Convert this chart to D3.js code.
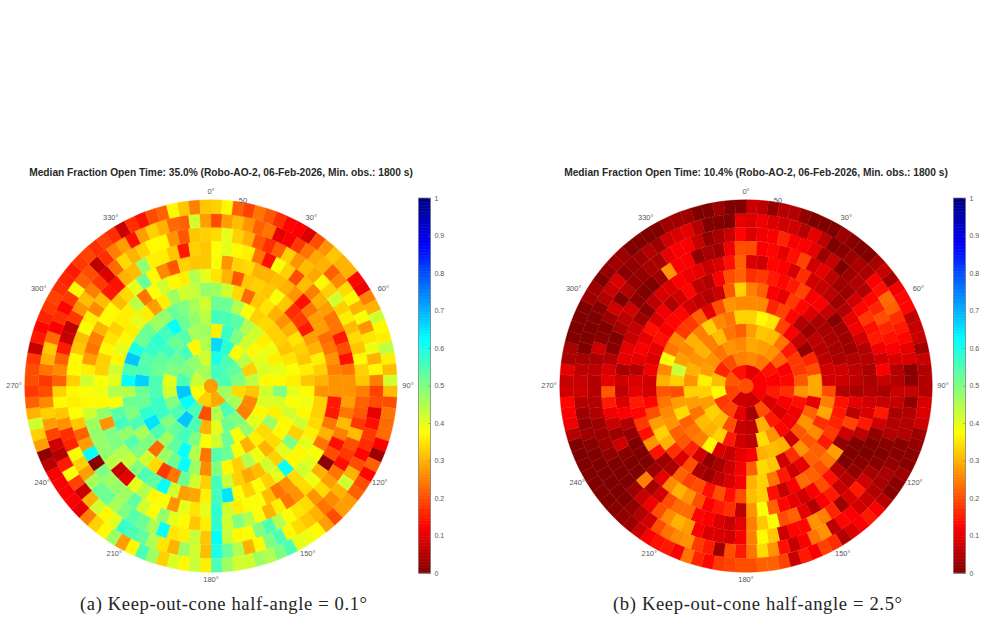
<!DOCTYPE html>
<html>
<head>
<meta charset="utf-8">
<script src="https://cdn.jsdelivr.net/npm/d3@7/dist/d3.min.js"></script>
<style>
html,body{margin:0;padding:0;background:#fff}
svg{display:block}
svg text{opacity:.99}
</style>
</head>
<body>
<svg id="fig" width="984" height="619"></svg>
<script>
// Fraction of open time per sky cell, in percent. Ring n holds 8n cells,
// listed clockwise from azimuth 0.
const aCenter = 28;
const aRing1 = [56,55,47,29,33,38,43,46];
const aRing2 = [60,55,53,50,34,46,55,45,20,55,62,68,55,50,48,42];
const aRing3 = [66,58,38,44,33,44,32,26,25,50,52,40,30,55,68,55,50,42,40,50,52,55,37,45];
const aRing4 = [36,57,50,42,37,40,41,37,42,41,37,40,48,38,52,42,38,50,56,53,50,57,57,55,55,52,53,56,52,54,46,47];
const aRing5 = [56,55,54,45,42,36,39,36,40,37,50,41,36,47,34,36,30,38,52,54,24,45,62,53,47,55,65,58,52,52,67,55,54,57,58,56,62,52,48,44];
const aRing6 = [52,52,45,38,33,34,33,33,32,35,38,36,40,38,42,37,37,34,30,39,45,33,37,50,26,47,62,52,47,23,50,46,55,50,52,45,62,55,68,60,52,52,47,48,52,50,46,42];
const aRing7 = [47,42,34,23,32,35,30,27,30,35,33,32,36,32,37,39,37,42,33,50,40,33,42,31,29,33,43,56,33,42,52,24,18,34,42,50,54,48,56,54,38,45,40,42,37,40,37,36,40,36,28,36,47,42,43,48];
const aRing8 = [35,30,21,32,33,32,38,32,17,18,15,28,30,36,33,30,27,33,33,34,36,40,37,37,62,40,33,38,33,38,65,56,36,29,28,42,62,53,55,50,43,45,50,50,27,48,37,39,38,33,33,37,35,33,36,36,44,24,38,42,37,36,45,40];
const aRing9 = [38,27,33,34,30,30,31,30,27,14,24,28,28,23,24,27,25,27,27,15,15,24,30,24,38,40,42,34,27,24,31,38,38,36,42,58,40,35,40,27,38,37,45,40,10,7,44,48,48,48,47,42,37,38,42,36,28,24,25,30,37,37,31,34,40,52,37,26,21,33,32,32];
const aRing10 = [38,40,37,36,24,14,38,33,20,31,25,30,28,24,24,15,20,14,24,27,27,28,24,31,25,14,20,1,30,39,34,27,24,36,30,38,45,50,42,58,36,32,37,40,48,38,42,53,47,48,47,50,1,62,28,22,32,38,36,37,33,37,37,32,31,38,36,26,31,15,14,30,31,48,36,36,32,15,33,32];
const aRing11 = [34,40,33,30,21,17,22,33,27,31,29,37,33,42,33,36,31,34,32,37,33,32,25,22,21,18,31,20,18,14,24,28,34,27,34,35,38,45,55,50,38,37,43,62,32,43,36,35,62,46,52,54,50,46,52,52,46,28,33,38,16,17,27,32,37,33,22,26,22,15,7,6,18,27,31,25,18,9,23,34,30,33,37,37,27,21,32,33];
const aRing12 = [20,28,31,27,22,24,10,12,18,24,29,30,22,26,34,37,30,38,27,35,39,30,37,25,19,20,10,14,18,17,13,20,30,42,30,26,24,30,32,34,37,55,50,37,30,45,52,60,31,42,47,30,35,45,53,55,57,40,37,42,30,7,19,38,15,5,8,19,28,33,26,20,18,24,30,32,23,12,17,13,18,37,22,20,6,17,25,28,14,28,33,30,23,22,42,28];
const aRing13 = [33,37,22,19,24,21,17,13,12,9,20,27,32,30,30,13,11,25,30,42,37,36,44,36,31,42,31,20,24,23,23,12,3,22,13,20,22,28,28,20,28,37,39,40,55,50,45,47,42,42,47,55,36,43,37,41,33,47,55,37,28,47,37,33,25,10,12,12,12,12,6,2,28,33,42,30,22,18,20,20,18,7,15,13,16,18,19,17,16,15,18,19,17,19,17,7,17,14,20,22,37,32,25,32];

const bCenter = 20;
const bRing1 = [10,12,12,7,8,19,21,14];
const bRing2 = [26,24,14,12,15,9,20,4,10,19,18,37,31,16,20,25];
const bRing3 = [29,28,27,22,12,13,17,12,9,15,30,6,7,20,31,33,28,33,36,28,27,24,27,26];
const bRing4 = [28,32,31,24,15,18,18,21,27,14,11,11,13,27,34,6,8,15,33,30,31,24,28,33,27,30,27,30,25,31,24,22];
const bRing5 = [33,37,35,19,12,7,2,16,20,29,29,10,22,27,21,8,30,31,30,12,10,7,9,37,25,24,22,34,28,20,33,43,28,26,30,25,33,26,24,33];
const bRing6 = [26,26,16,19,13,5,3,6,5,6,8,8,20,25,29,17,26,21,27,17,8,32,34,22,12,8,4,2,8,16,21,22,27,26,24,21,30,26,38,24,26,18,18,22,10,20,27,26];
const bRing7 = [25,22,12,10,18,13,9,4,4,4,4,4,8,8,5,14,15,16,18,15,22,22,10,8,15,24,33,30,12,9,6,3,4,20,9,17,30,33,28,20,13,8,8,11,9,10,14,12,13,13,8,6,5,7,21,33];
const bRing8 = [17,18,15,13,15,19,12,12,7,1,3,3,3,5,6,6,4,10,6,19,8,2,28,24,20,22,23,12,7,14,33,31,20,14,20,14,20,19,22,4,3,14,27,14,18,13,15,10,9,5,10,12,10,14,9,11,5,8,13,6,5,12,20,22];
const bRing9 = [9,8,13,12,9,17,8,7,6,3,5,10,11,8,5,5,4,4,5,8,9,15,6,0,0,0,5,14,20,12,8,10,13,22,38,27,6,17,15,12,20,27,30,26,10,3,0,0,0,2,5,12,9,6,8,4,10,10,7,7,3,1,6,9,9,12,11,10,7,9,14,22];
const bRing10 = [20,12,13,10,14,19,8,10,6,3,3,8,13,18,14,15,11,8,12,7,4,7,15,8,2,0,0,1,2,5,7,15,12,5,10,22,20,38,32,25,10,7,9,12,13,23,23,20,8,4,25,0,0,1,8,3,7,11,15,21,10,9,5,1,0,4,6,8,1,0,0,3,27,12,12,2,4,3,11,20];
const bRing11 = [9,11,12,16,12,12,10,3,7,0,3,5,5,13,16,20,16,14,12,9,5,5,7,7,4,5,5,1,0,1,4,8,15,9,3,16,25,27,13,13,8,32,37,25,12,8,9,9,12,28,30,26,20,11,7,3,0,0,0,2,3,3,3,5,5,5,5,6,4,8,1,0,3,8,0,5,2,2,4,4,10,12,12,7,2,4,7,13];
const bRing12 = [9,11,9,8,8,5,10,6,0,1,3,4,4,12,14,23,22,17,15,13,10,9,1,1,7,2,5,5,5,1,1,2,4,4,5,7,8,12,13,6,27,24,12,7,14,27,34,24,15,20,3,15,18,27,26,24,20,8,5,2,0,0,0,0,0,0,1,3,2,3,5,8,7,6,4,0,0,0,0,1,5,7,9,1,2,3,5,3,8,9,10,5,0,0,0,10];
const bRing13 = [7,6,2,5,5,2,0,0,0,3,1,0,0,4,7,3,11,13,13,6,7,7,3,7,5,5,5,9,9,8,3,2,1,1,3,1,1,5,12,15,12,9,5,17,19,12,15,7,19,22,22,20,20,19,18,13,16,24,12,15,14,12,7,3,2,1,0,0,0,0,0,0,0,5,11,12,13,8,7,10,4,4,0,0,0,0,3,3,0,2,3,3,0,0,0,0,3,3,3,0,0,3,0,0];

const panelATitle = "Median Fraction Open Time: 35.0% (Robo-AO-2, 06-Feb-2026, Min. obs.: 1800 s)";
const panelBTitle = "Median Fraction Open Time: 10.4% (Robo-AO-2, 06-Feb-2026, Min. obs.: 1800 s)";
const panelACaption = "(a) Keep-out-cone half-angle = 0.1°";
const panelBCaption = "(b) Keep-out-cone half-angle = 2.5°";
const azimuthTicks = [0,30,60,90,120,150,180,210,240,270,300,330];
const radialTickLabel = "50";
const barTicks = [0,0.1,0.2,0.3,0.4,0.5,0.6,0.7,0.8,0.9,1];

const ringsA = [aRing1,aRing2,aRing3,aRing4,aRing5,aRing6,aRing7,aRing8,aRing9,aRing10,aRing11,aRing12,aRing13];
const ringsB = [bRing1,bRing2,bRing3,bRing4,bRing5,bRing6,bRing7,bRing8,bRing9,bRing10,bRing11,bRing12,bRing13];

// Reversed jet: dark red at 0, dark blue at 1.
const jet = d3.scaleLinear()
  .domain([0,0.125,0.375,0.625,0.875,1])
  .range(["#800000","#ff0000","#ffff00","#00ffff","#0000ff","#000080"])
  .interpolate(d3.interpolateRgb);

const svg = d3.select("#fig");
const rScale = d3.scaleLinear().domain([0,13]).range([7.5,186.25]);
const arc = d3.arc();
const barY = d3.scaleLinear().domain([0,1]).range([573,198]);
const rad = a => a*Math.PI/180;
const labelFont = "'Liberation Sans',Arial,sans-serif";

function drawPanel(cfg){
  const g = svg.append("g").attr("transform",`translate(${cfg.cx},386)`);

  // Central cap
  g.append("circle").attr("r",rScale(0))
    .attr("fill",jet(cfg.center/100));

  // Rings of equal-width azimuth cells
  const cells = cfg.rings.flatMap((vals,ri)=>vals.map((v,i)=>{
    const step = 2*Math.PI/vals.length;
    return {v:v/100,inner:rScale(ri),outer:rScale(ri+1),a0:i*step,a1:(i+1)*step};
  }));
  g.selectAll("path.cell").data(cells).join("path")
    .attr("class","cell")
    .attr("d",d=>arc({innerRadius:d.inner,outerRadius:d.outer,startAngle:d.a0,endAngle:d.a1}))
    .attr("fill",d=>jet(d.v))
    .attr("stroke",d=>jet(d.v))
    .attr("stroke-width",0.35);

  // Azimuth labels around the disc
  g.selectAll("text.az").data(azimuthTicks).join("text")
    .attr("class","az")
    .attr("x",a=>197*Math.sin(rad(a))+2*Math.sin(rad(2*a)))
    .attr("y",a=>-194*Math.cos(rad(a))+1.5)
    .attr("text-anchor","middle")
    .attr("font-family",labelFont)
    .attr("font-size",7.5)
    .attr("fill","#555")
    .text(a=>a+"°");

  g.append("text").attr("x",32).attr("y",-183.5)
    .attr("text-anchor","middle")
    .attr("font-family",labelFont)
    .attr("font-size",7.5).attr("fill","#555")
    .text(radialTickLabel);

  // Panel title and caption
  svg.append("text").attr("x",cfg.titleX).attr("y",175.5)
    .attr("text-anchor","middle")
    .attr("font-family",labelFont)
    .attr("font-weight","bold").attr("font-size",10.2).attr("fill","#262626")
    .text(cfg.title);
  svg.append("text").attr("x",cfg.capX).attr("y",610)
    .attr("text-anchor","middle")
    .attr("font-family","'Liberation Serif','DejaVu Serif',serif")
    .attr("font-size",18.6).attr("fill","#222")
    .attr("textLength",cfg.capW).attr("lengthAdjust","spacing")
    .text(cfg.caption);

  // Colour bar
  const bar = svg.append("g").attr("transform",`translate(${cfg.barX},0)`);
  const levels = d3.range(0,256).map(i=>i/256);
  bar.selectAll("rect.lv").data(levels).join("rect")
    .attr("class","lv")
    .attr("x",0).attr("width",12)
    .attr("y",d=>barY(d+1/256))
    .attr("height",d=>barY(d)-barY(d+1/256)+0.5)
    .attr("fill",d=>jet(d+1/512));
  bar.append("rect").attr("width",12).attr("y",198).attr("height",375)
    .attr("fill","none").attr("stroke","#777").attr("stroke-width",0.7);
  const axis = d3.axisRight(barY).tickValues(barTicks)
    .tickSize(-2).tickPadding(4).tickFormat(d3.format("~g"));
  const ag = bar.append("g").attr("transform","translate(12,0)").call(axis);
  ag.select(".domain").remove();
  ag.selectAll("line").attr("stroke","#777").attr("stroke-width",0.6);
  ag.selectAll("text")
    .attr("font-family",labelFont)
    .attr("font-size",7).attr("fill","#555");
}

drawPanel({cx:211,center:aCenter,rings:ringsA,title:panelATitle,titleX:221,caption:panelACaption,capX:223.5,capW:287,barX:418.5});
drawPanel({cx:746,center:bCenter,rings:ringsB,title:panelBTitle,titleX:756,caption:panelBCaption,capX:757.5,capW:289,barX:953.5});
</script>
</body>
</html>
